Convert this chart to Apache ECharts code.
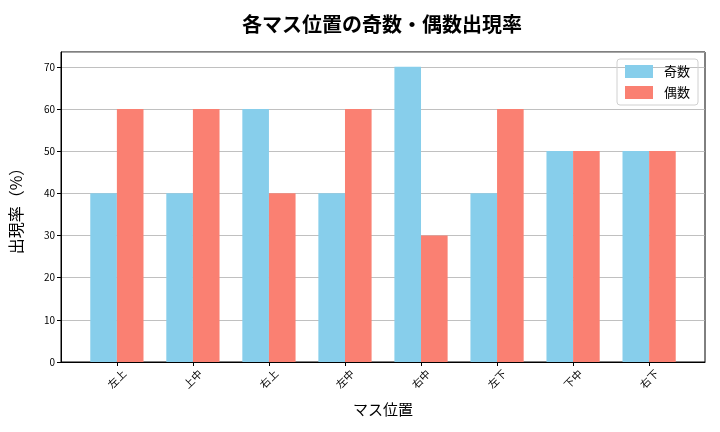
<!DOCTYPE html>
<html><head><meta charset="utf-8">
<script src="https://cdn.jsdelivr.net/npm/echarts@6/dist/echarts.min.js"></script>
<style>html,body{margin:0;padding:0;background:#fff}#c{width:720px;height:432px}</style>
</head><body><div id="c"></div>
<script>
const categories = ['左上','上中','右上','左中','右中','左下','下中','右下'];
const oddValues = [40,40,60,40,70,40,50,50];
const evenValues = [60,60,40,60,30,60,50,50];
const seriesNames = ['奇数','偶数'];
const yTicks = [0,10,20,30,40,50,60,70];

const font = '"Noto Sans CJK JP","Noto Sans",sans-serif';
const idx = categories.map((_, i) => i);
const chart = echarts.init(document.getElementById('c'), null, {renderer:'canvas'});
chart.setOption({
  animation:false,
  backgroundColor:'#fff',
  textStyle:{fontFamily:font},
  title:{text:'各マス位置の奇数・偶数出現率',left:377,top:9,textAlign:'center',
    textStyle:{fontFamily:font,fontSize:20,fontWeight:'bold',color:'#000'}},
  grid:{left:60,right:15,top:52,bottom:70,show:true,borderColor:'#000',borderWidth:1,backgroundColor:'transparent'},
  legend:{right:22,top:59,orient:'vertical',itemWidth:28,itemHeight:13,itemGap:8,
    icon:'rect',padding:[6,8,6,8],borderColor:'#d0d0d0',borderWidth:1,borderRadius:3,
    textStyle:{fontFamily:font,fontSize:13,color:'#000',padding:[0,0,0,6]},data:seriesNames},
  xAxis:{type:'value',min:-0.735,max:7.735,
    name:'マス位置',nameLocation:'middle',nameGap:40,
    nameTextStyle:{fontFamily:font,fontSize:15,color:'#000'},
    axisLine:{show:true,onZero:false,lineStyle:{color:'#000'}},
    axisTick:{show:true,customValues:idx,length:4,lineStyle:{color:'#000'}},
    axisLabel:{customValues:idx,rotate:45,fontSize:10.5,color:'#000',margin:17,
      align:'center',verticalAlign:'middle',
      formatter:v=>categories[Math.round(v)]},
    splitLine:{show:false}},
  yAxis:{type:'value',min:0,max:73.5,interval:10,
    name:'出現率（%）',nameLocation:'middle',nameGap:37,nameRotate:90,
    nameTextStyle:{fontFamily:font,fontSize:16,color:'#000'},
    axisLine:{show:true,onZero:false,lineStyle:{color:'#000'}},
    axisTick:{show:true,length:4,lineStyle:{color:'#000'}},
    axisLabel:{fontSize:10,color:'#000',margin:6,showMaxLabel:false,
      formatter:v=>yTicks.includes(v)?String(v):''},
    splitLine:{show:true,lineStyle:{color:'#b0b0b0',width:0.8}}},
  series:[
    {name:seriesNames[0],type:'bar',barWidth:'35%',barGap:'0%',
      itemStyle:{color:'#87CEEB'},data:oddValues.map((v,i)=>[i,v])},
    {name:seriesNames[1],type:'bar',barWidth:'35%',barGap:'0%',
      itemStyle:{color:'#FA8072'},data:evenValues.map((v,i)=>[i,v])}
  ]
});
</script></body></html>
